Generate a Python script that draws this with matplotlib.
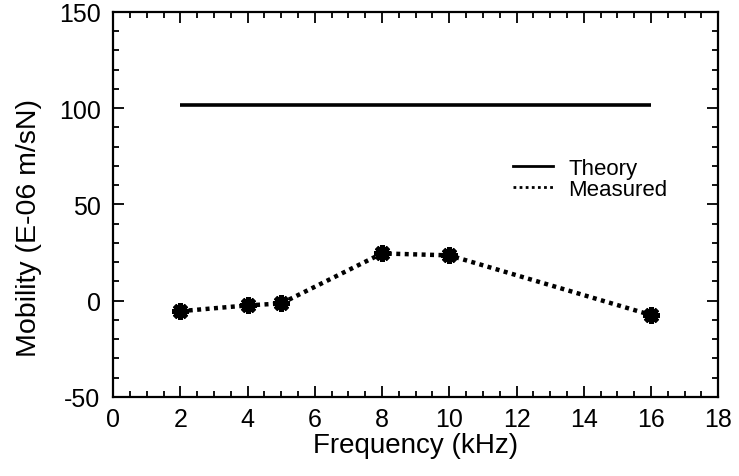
import matplotlib
matplotlib.use("Agg")
import matplotlib.pyplot as plt
from matplotlib.lines import Line2D
from matplotlib.ticker import MultipleLocator

plt.rcParams["font.family"] = ["Liberation Sans", "DejaVu Sans"]
plt.rcParams["axes.unicode_minus"] = False

# measured mobility, E-06 m/sN
freq_khz = [2, 4, 5, 8, 10, 16]
measured = [-5.5, -2.5, -1.5, 24.5, 23.5, -7.5]

# theory, flat over the same band
theory_freq = [2, 16]
theory = [101.5, 101.5]

fig = plt.figure(figsize=(7.39, 4.77), dpi=100)
ax = fig.add_axes([0.153, 0.166, 0.819, 0.807])

ax.plot(theory_freq, theory, color="black", lw=2.6, solid_capstyle="butt")
ax.plot(freq_khz, measured, color="black", lw=3.2, dashes=(0.9, 1.0),
        marker=(8, 2, 0), ms=12, mew=3.5, mec="black")

ax.set_xlim(0, 18)
ax.set_ylim(-50, 150)
ax.xaxis.set_major_locator(MultipleLocator(2))
ax.xaxis.set_minor_locator(MultipleLocator(0.5))
ax.yaxis.set_major_locator(MultipleLocator(50))
ax.yaxis.set_minor_locator(MultipleLocator(10))
ax.tick_params(which="both", direction="in", top=True, right=True,
               width=1.3, labelsize=18)
ax.tick_params(axis="y", pad=9)
ax.tick_params(axis="x", pad=7)
ax.tick_params(which="major", length=8)
ax.tick_params(which="minor", length=4)
for s in ax.spines.values():
    s.set_linewidth(1.6)

ax.set_xlabel("Frequency (kHz)", fontsize=20, labelpad=1)
ax.set_ylabel("Mobility (E-06 m/sN)", fontsize=20.5)
ax.yaxis.set_label_coords(-0.118, 0.44)

handles = [Line2D([], [], color="black", lw=2.0),
           Line2D([], [], color="black", lw=2.0, dashes=(1, 1.2))]
ax.legend(handles, ["Theory", "Measured"], loc="upper left",
          bbox_to_anchor=(0.66, 0.62), frameon=False, fontsize=16,
          handlelength=1.8, handletextpad=0.7, labelspacing=0.0,
          borderpad=0, borderaxespad=0)

fig.savefig("out.png", dpi=100)
